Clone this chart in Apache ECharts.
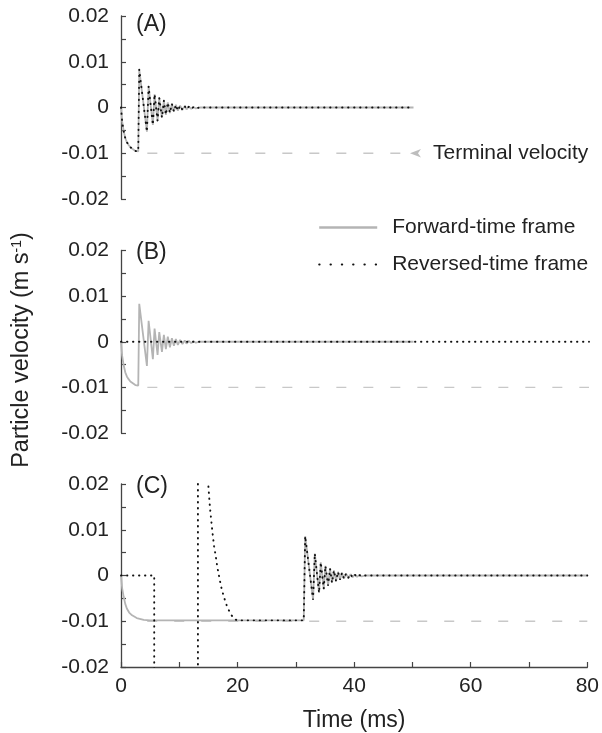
<!DOCTYPE html>
<html>
<head>
<meta charset="utf-8">
<script src="https://cdn.jsdelivr.net/npm/echarts@6/dist/echarts.min.js"></script>
<style>
  html, body { margin: 0; padding: 0; background: #fff; }
  #chart { width: 602px; height: 733px; }
</style>
</head>
<body>
<div id="chart"></div>
<script>
// panel A / B : forward-time response (ms, m/s)
var fwdTimeAB = [0, 0.2, 0.45, 0.73, 1.0, 1.3, 1.6, 1.9, 2.45, 2.95,
  3.12, 4.43, 4.72, 5.45, 5.74, 6.25, 6.54, 7.0, 7.33, 7.67,
  8.0, 8.36, 8.7, 9.04, 9.38, 9.72, 10.1, 10.5, 10.9, 11.2,
  11.6, 12.0, 12.4, 12.8, 13.4, 50];
var fwdVelAB = [0, -0.0031, -0.0051, -0.0067, -0.0076, -0.0082, -0.0087, -0.0091, -0.0095, -0.0096,
  0.0083, -0.0053, 0.0046, -0.0038, 0.0029, -0.0029, 0.0021, -0.0022, 0.0015, -0.0016,
  0.0011, -0.0012, 0.0008, -0.0009, 0.0006, -0.0007, 0.0004, -0.0005, 0.0003, -0.0004,
  0.0002, -0.0003, 0.0001, -0.0002, 0, 0];

// panel B : reversed-time frame sits at zero
var revTimeB = [0, 80];
var revVelB = [0, 0];

// panel C : forward-time
var fwdTimeC = [0, 0.2, 0.45, 0.73, 1.0, 1.4, 1.9, 2.7, 3.9, 5.0,
  31.35, 31.6, 32.95, 33.25, 33.98, 34.27, 34.78, 35.07, 35.53, 35.86,
  36.2, 36.53, 36.89, 37.23, 37.57, 37.91, 38.25, 38.6, 39.0, 39.4,
  39.7, 40.1, 40.5, 40.9, 41.3, 41.9, 80];
var fwdVelC = [0, -0.0028, -0.0046, -0.0062, -0.0072, -0.0081, -0.0087, -0.0093, -0.0097, -0.0098,
  -0.0098, 0.0086, -0.0053, 0.0048, -0.0038, 0.0029, -0.0029, 0.0021, -0.0022, 0.0015,
  -0.0016, 0.0011, -0.0012, 0.0008, -0.0009, 0.0006, -0.0007, 0.0004, -0.0005, 0.0003,
  -0.0004, 0.0002, -0.0003, 0.0001, -0.0002, 0, 0];

// panel C : reversed-time, first part (goes off scale between 5.7 and 15 ms)
var revHeadT = [0, 5.7, 5.7, 13.2, 13.2, 14.85, 15.0, 15.24, 15.47, 15.7,
  15.97, 16.26, 16.5, 16.83, 17.17, 17.63, 18.2, 18.77, 19.33, 19.9];
var revHeadV = [0, 0, -0.2, -0.2, 0.2, 0.023, 0.0194, 0.0152, 0.0122, 0.0093,
  0.0064, 0.0042, 0.002, -0.0002, -0.0024, -0.0046, -0.0068, -0.0083, -0.0094, -0.0098];
// after 31 ms it follows the forward trace
var revTimeC = revHeadT.concat(fwdTimeC.slice(10));
var revVelC = revHeadV.concat(fwdVelC.slice(10));

var terminalVel = -0.01;
var termTimeA = [4.5, 48.5];
var termTimeBC = [4.5, 80];

var FONT = "'Liberation Sans', Arial, sans-serif";
var TXT = '#222';
var GREY = '#b4b4b4';

function pairs(t, v) {
  return t.map(function (x, i) { return [x, v[i]]; });
}
function flat(t, y) {
  return t.map(function (x) { return [x, y]; });
}

var chart = echarts.init(document.getElementById('chart'));

var tops = [16, 250.5, 484];
var heights = [183, 182.5, 183.5];
var grids = [], xAxes = [], yAxes = [];
for (var i = 0; i < 3; i++) {
  grids.push({ left: 121, right: 13, top: tops[i], height: heights[i] });
  var last = i === 2;
  xAxes.push({
    type: 'value', gridIndex: i, min: 0, max: 80, interval: 20,
    name: last ? 'Time (ms)' : '',
    nameLocation: 'middle', nameGap: 42,
    nameTextStyle: { fontSize: 23, color: TXT, fontFamily: FONT },
    axisLine: { show: last, onZero: false, lineStyle: { color: '#444', width: 1.3 } },
    axisTick: { show: last, inside: true, length: 5, lineStyle: { color: '#444', width: 1.2 } },
    minorTick: { show: last, splitNumber: 2, length: 5, lineStyle: { color: '#444', width: 1.2 } },
    axisLabel: { show: last, fontSize: 21, color: TXT, fontFamily: FONT, margin: 9 },
    splitLine: { show: false }
  });
  yAxes.push({
    type: 'value', gridIndex: i, min: -0.02, max: 0.02, interval: 0.01,
    axisLine: { show: true, onZero: false, lineStyle: { color: '#444', width: 1.3 } },
    axisTick: { show: true, inside: true, length: 5, lineStyle: { color: '#444', width: 1.2 } },
    minorTick: { show: true, splitNumber: 2, length: 5, lineStyle: { color: '#444', width: 1.2 } },
    axisLabel: {
      fontSize: 21, color: TXT, fontFamily: FONT, margin: 12,
      formatter: function (v) { return Math.abs(v) < 1e-9 ? '0' : v.toFixed(2); }
    },
    splitLine: { show: false }
  });
}

var fwdStyle = { color: GREY, width: 1.8 };
var revStyle = { color: '#111', width: 1.9, type: [0.4, 5.6], cap: 'round' };
var termStyle = { color: '#c8c8c8', width: 1.3, type: [10, 17] };

function line(name, idx, data, style, z) {
  return {
    name: name, type: 'line', xAxisIndex: idx, yAxisIndex: idx,
    data: data, showSymbol: false, symbol: 'none', silent: true,
    itemStyle: { color: style.color },
    lineStyle: style, z: z, animation: false
  };
}

var series = [
  line('terminal', 0, flat(termTimeA, terminalVel), termStyle, 1),
  line('terminal', 1, flat(termTimeBC, terminalVel), termStyle, 1),
  line('terminal', 2, flat(termTimeBC, terminalVel), termStyle, 1),
  line('Forward-time frame', 0, pairs(fwdTimeAB, fwdVelAB), fwdStyle, 2),
  line('Forward-time frame', 1, pairs(fwdTimeAB, fwdVelAB), fwdStyle, 2),
  line('Forward-time frame', 2, pairs(fwdTimeC, fwdVelC), fwdStyle, 2),
  line('Reversed-time frame', 0, pairs(fwdTimeAB, fwdVelAB), revStyle, 3),
  line('Reversed-time frame', 1, pairs(revTimeB, revVelB), revStyle, 3),
  line('Reversed-time frame', 2, pairs(revTimeC, revVelC), revStyle, 3)
];

var option = {
  backgroundColor: '#fff',
  animation: false,
  grid: grids,
  xAxis: xAxes,
  yAxis: yAxes,
  legend: {
    orient: 'vertical', left: 313, top: 212,
    itemWidth: 58, itemHeight: 21, itemGap: 16,
    textStyle: { fontSize: 21, color: TXT, fontFamily: FONT, padding: [0, 0, 0, 10] },
    data: [
      {
        name: 'Forward-time frame',
        itemStyle: { opacity: 0 },
        lineStyle: { color: GREY, width: 2.4 }
      },
      {
        name: 'Reversed-time frame',
        itemStyle: { opacity: 0 },
        lineStyle: { color: '#111', width: 2, type: [0.4, 10.9], cap: 'round' }
      }
    ],
    selectedMode: false
  },
  graphic: [
    { type: 'text', left: 136, top: 13, style: { text: '(A)', font: '23px ' + FONT, fill: TXT } },
    { type: 'text', left: 136, top: 241, style: { text: '(B)', font: '23px ' + FONT, fill: TXT } },
    { type: 'text', left: 136, top: 475, style: { text: '(C)', font: '23px ' + FONT, fill: TXT } },
    {
      type: 'polygon', silent: true,
      shape: { points: [[410, 153.3], [421, 149], [418, 153.3], [421, 157.6]] },
      style: { fill: '#bdbdbd' }
    },
    {
      type: 'text', x: 433, y: 153.3,
      style: { text: 'Terminal velocity', font: '21px ' + FONT, fill: TXT, verticalAlign: 'middle' }
    },
    {
      type: 'text', x: 22, y: 350, rotation: Math.PI / 2,
      style: {
        text: 'Particle velocity (m s{sup|-1})',
        font: '23.5px ' + FONT, fill: TXT, align: 'center', verticalAlign: 'middle',
        rich: { sup: { fontSize: 14, fontFamily: FONT, fill: TXT, padding: [0, 0, 10, 0] } }
      }
    }
  ],
  series: series
};
chart.setOption(option);
</script>
</body>
</html>
